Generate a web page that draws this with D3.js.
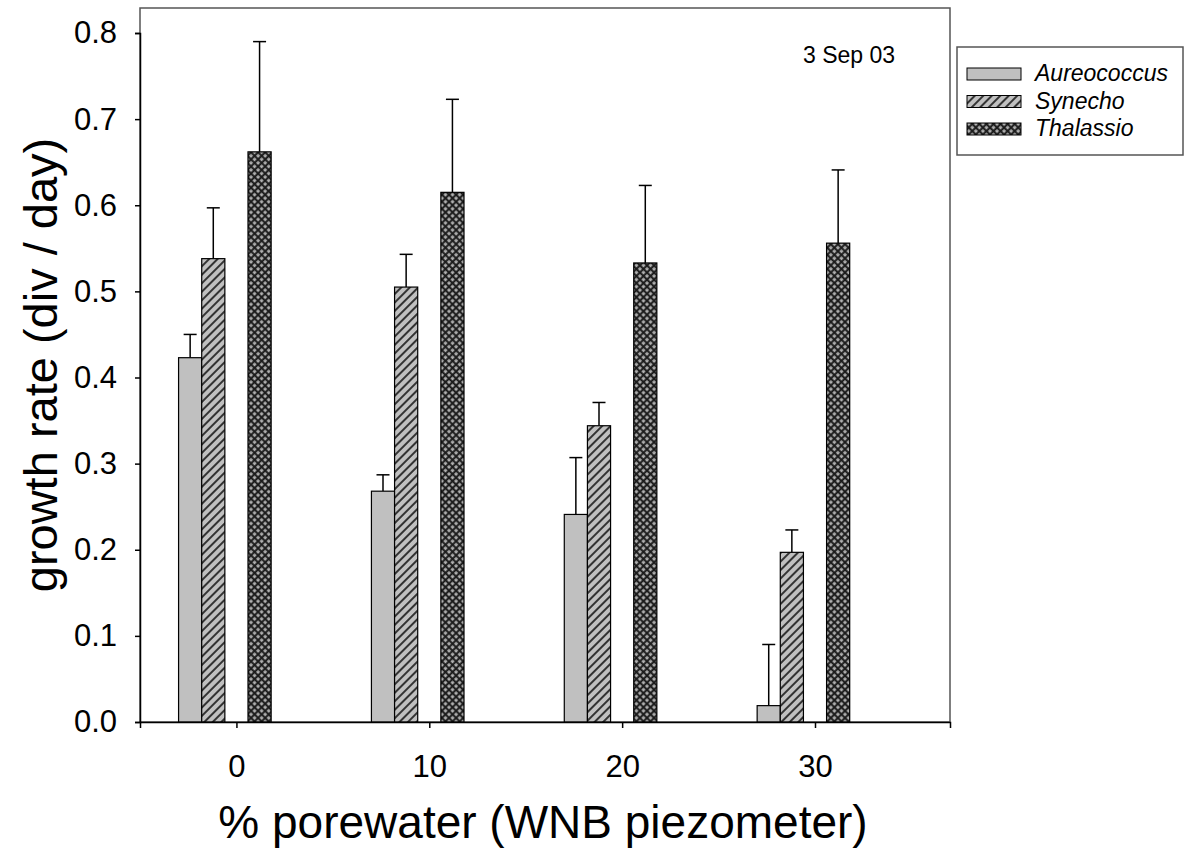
<!DOCTYPE html>
<html><head><meta charset="utf-8">
<script src="https://cdn.jsdelivr.net/npm/d3@7"></script>
<style>body{margin:0;background:#fff;} text{font-family:"Liberation Sans",Arial,sans-serif;}</style>
</head><body><svg id="c" width="1188" height="852"></svg>
<script>
const categories = [0, 10, 20, 30];
const series = ["Aureococcus", "Synecho", "Thalassio"];
const aureococcus = [0.423, 0.268, 0.241, 0.019];
const aureococcusErr = [0.027, 0.019, 0.066, 0.071];
const synecho = [0.538, 0.505, 0.344, 0.197];
const synechoErr = [0.059, 0.038, 0.027, 0.026];
const thalassio = [0.662, 0.615, 0.533, 0.556];
const thalassioErr = [0.128, 0.108, 0.090, 0.085];
const slots = [0, 1, 3]; // slot index within 5-slot group
const yTicks = [0, 0.1, 0.2, 0.3, 0.4, 0.5, 0.6, 0.7, 0.8];

const svg = d3.select("#c");
const L = 140, R = 950, T = 8, B = 722;
const x = d3.scaleLinear().domain([-5, 37]).range([L, R]);
const y = d3.scaleLinear().domain([0, 0.8]).range([B, 33]);
const slotW = x(1.2) - x(0);

const defs = svg.append("defs");
const p1 = defs.append("pattern").attr("id","diag").attr("patternUnits","userSpaceOnUse")
  .attr("width",6).attr("height",6).attr("patternTransform","rotate(45)");
p1.append("rect").attr("width",6).attr("height",6).attr("fill","#c0c0c0");
p1.append("rect").attr("width",2).attr("height",6).attr("fill","#333");
const p2 = defs.append("pattern").attr("id","cross").attr("patternUnits","userSpaceOnUse")
  .attr("width",5).attr("height",5).attr("patternTransform","rotate(45)");
p2.append("rect").attr("width",5).attr("height",5).attr("fill","#1a1a1a");
p2.append("rect").attr("x",1.2).attr("y",1.2).attr("width",3).attr("height",3).attr("fill","#b0b0b0");

const fills = ["#c0c0c0", "url(#diag)", "url(#cross)"];
const vals = [aureococcus, synecho, thalassio];
const errs = [aureococcusErr, synechoErr, thalassioErr];

// frame
svg.append("rect").attr("x",L).attr("y",T).attr("width",R-L).attr("height",B-T)
  .attr("fill","none").attr("stroke","#555").attr("stroke-width",1.5);

series.forEach((s, si) => {
  categories.forEach((c, ci) => {
    const x0 = x(c) + (slots[si] - 2.5) * slotW;
    const v = vals[si][ci], e = errs[si][ci];
    const cx = x0 + slotW/2;
    svg.append("line").attr("x1",cx).attr("x2",cx).attr("y1",y(v)).attr("y2",y(v+e))
      .attr("stroke","#000").attr("stroke-width",1.5);
    svg.append("line").attr("x1",cx-6.5).attr("x2",cx+6.5).attr("y1",y(v+e)).attr("y2",y(v+e))
      .attr("stroke","#000").attr("stroke-width",1.5);
    svg.append("rect").attr("x",x0).attr("y",y(v)).attr("width",slotW).attr("height",y(0)-y(v))
      .attr("fill",fills[si]).attr("stroke","#000").attr("stroke-width",1.2);
  });
});

// axes
const ya = svg.append("g").attr("transform",`translate(${L},0)`)
  .call(d3.axisLeft(y).tickValues(yTicks).tickFormat(d3.format(".1f")).tickSizeOuter(0).tickSize(5).tickPadding(18));
ya.select(".domain").attr("stroke","#000").attr("stroke-width",1.5);
ya.selectAll(".tick line").attr("stroke","#000").attr("stroke-width",1.5);
ya.selectAll("text").attr("font-size",31).attr("fill","#000").style("font-family","Liberation Sans, Arial");
const xa = svg.append("g").attr("transform",`translate(0,${B})`)
  .call(d3.axisBottom(x).tickValues(categories).tickSizeOuter(0).tickSize(6));
xa.select(".domain").attr("stroke","#000").attr("stroke-width",1.5);
xa.selectAll(".tick line").attr("stroke","#000").attr("stroke-width",1.5);
xa.selectAll("text").attr("font-size",31).attr("fill","#000").attr("y",55).attr("dy",0)
  .style("font-family","Liberation Sans, Arial");

svg.append("text").attr("x",543).attr("y",838).attr("text-anchor","middle").attr("font-size",46)
  .text("% porewater (WNB piezometer)");
svg.append("text").attr("transform","translate(57,365) rotate(-90)").attr("text-anchor","middle")
  .attr("font-size",47).text("growth rate (div / day)");
svg.append("text").attr("x",803).attr("y",63).attr("font-size",23).text("3 Sep 03");

// legend
svg.append("rect").attr("x",957).attr("y",47).attr("width",226).attr("height",108)
  .attr("fill","#fff").attr("stroke","#555").attr("stroke-width",1.5);
series.forEach((s, si) => {
  const ly = 68 + si*27.5;
  svg.append("rect").attr("x",967).attr("y",ly).attr("width",54).attr("height",12)
    .attr("fill",fills[si]).attr("stroke","#000").attr("stroke-width",1);
  svg.append("text").attr("x",1035).attr("y",ly+13).attr("font-size",23).attr("font-style","italic").text(s);
});
</script></body></html>
